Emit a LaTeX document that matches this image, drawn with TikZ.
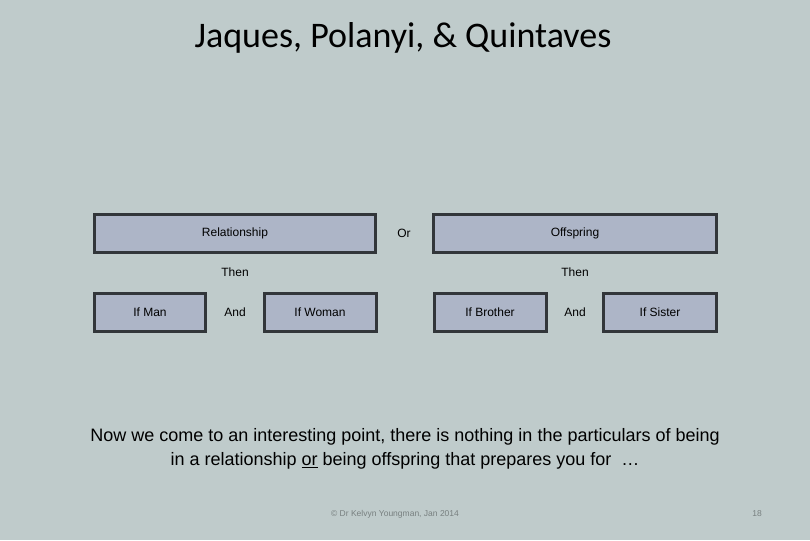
\documentclass[tikz,border=0pt]{standalone}
\usepackage{fontspec}
\setmainfont{Liberation Sans}
\newfontfamily\titlefont{Carlito}
\usepackage{tikz}
\usetikzlibrary{positioning}

\definecolor{slidebg}{RGB}{191,203,203}
\definecolor{boxfill}{RGB}{173,181,199}
\definecolor{boxline}{RGB}{50,54,58}
\definecolor{footgray}{RGB}{120,128,128}

\tikzset{
  lbox/.style={draw=boxline,line width=3pt,fill=boxfill,minimum height=38pt,inner sep=0pt,font=\fontsize{12}{14}\selectfont},
  word/.style={inner sep=0pt,font=\fontsize{12}{14}\selectfont}
}

\begin{document}
\begin{tikzpicture}[x=1pt,y=-1pt]
		\fill[slidebg] (0,0) rectangle (810,540);
		\useasboundingbox (0,0) rectangle (810,540);
		
		\node (title) at (403,38) {\titlefont\fontsize{36}{42}\selectfont Jaques, Polanyi, \& Quintaves};
		
		\node (rel)  [lbox,minimum width=281pt] at (235,233) {Relationship};
		\node (or)   [word] at (404,233) {Or};
		\node (off)  [lbox,minimum width=283pt] at (575,233) {Offspring};
		
		\node (then1) [word] at (235,272) {Then};
		\node (then2) [word] at (575,272) {Then};
		
		\node (man)   [lbox,minimum width=111pt] at (150,312) {If Man};
		\node (and1)  [word] at (235,312) {And};
		\node (woman) [lbox,minimum width=112pt] at (320,312) {If Woman};
		
		\node (bro)   [lbox,minimum width=112pt] at (490,312) {If Brother};
		\node (and2)  [word] at (575,312) {And};
		\node (sis)   [lbox,minimum width=113pt] at (660,312) {If Sister};
		
		\node (note) [align=center,font=\fontsize{18}{24}\selectfont] at (405,449)
			{Now we come to an interesting point, there is nothing in the particulars of being\\
			 in a relationship \underline{or} being offspring that prepares you for\ \ \dots};
		
		\node (foot) [text=footgray,font=\fontsize{8.5}{10}\selectfont] at (395,514) {\copyright{} Dr Kelvyn Youngman, Jan 2014};
		\node (page) [text=footgray,font=\fontsize{8.5}{10}\selectfont] at (757,514) {18};
	\end{tikzpicture}
\end{document}
